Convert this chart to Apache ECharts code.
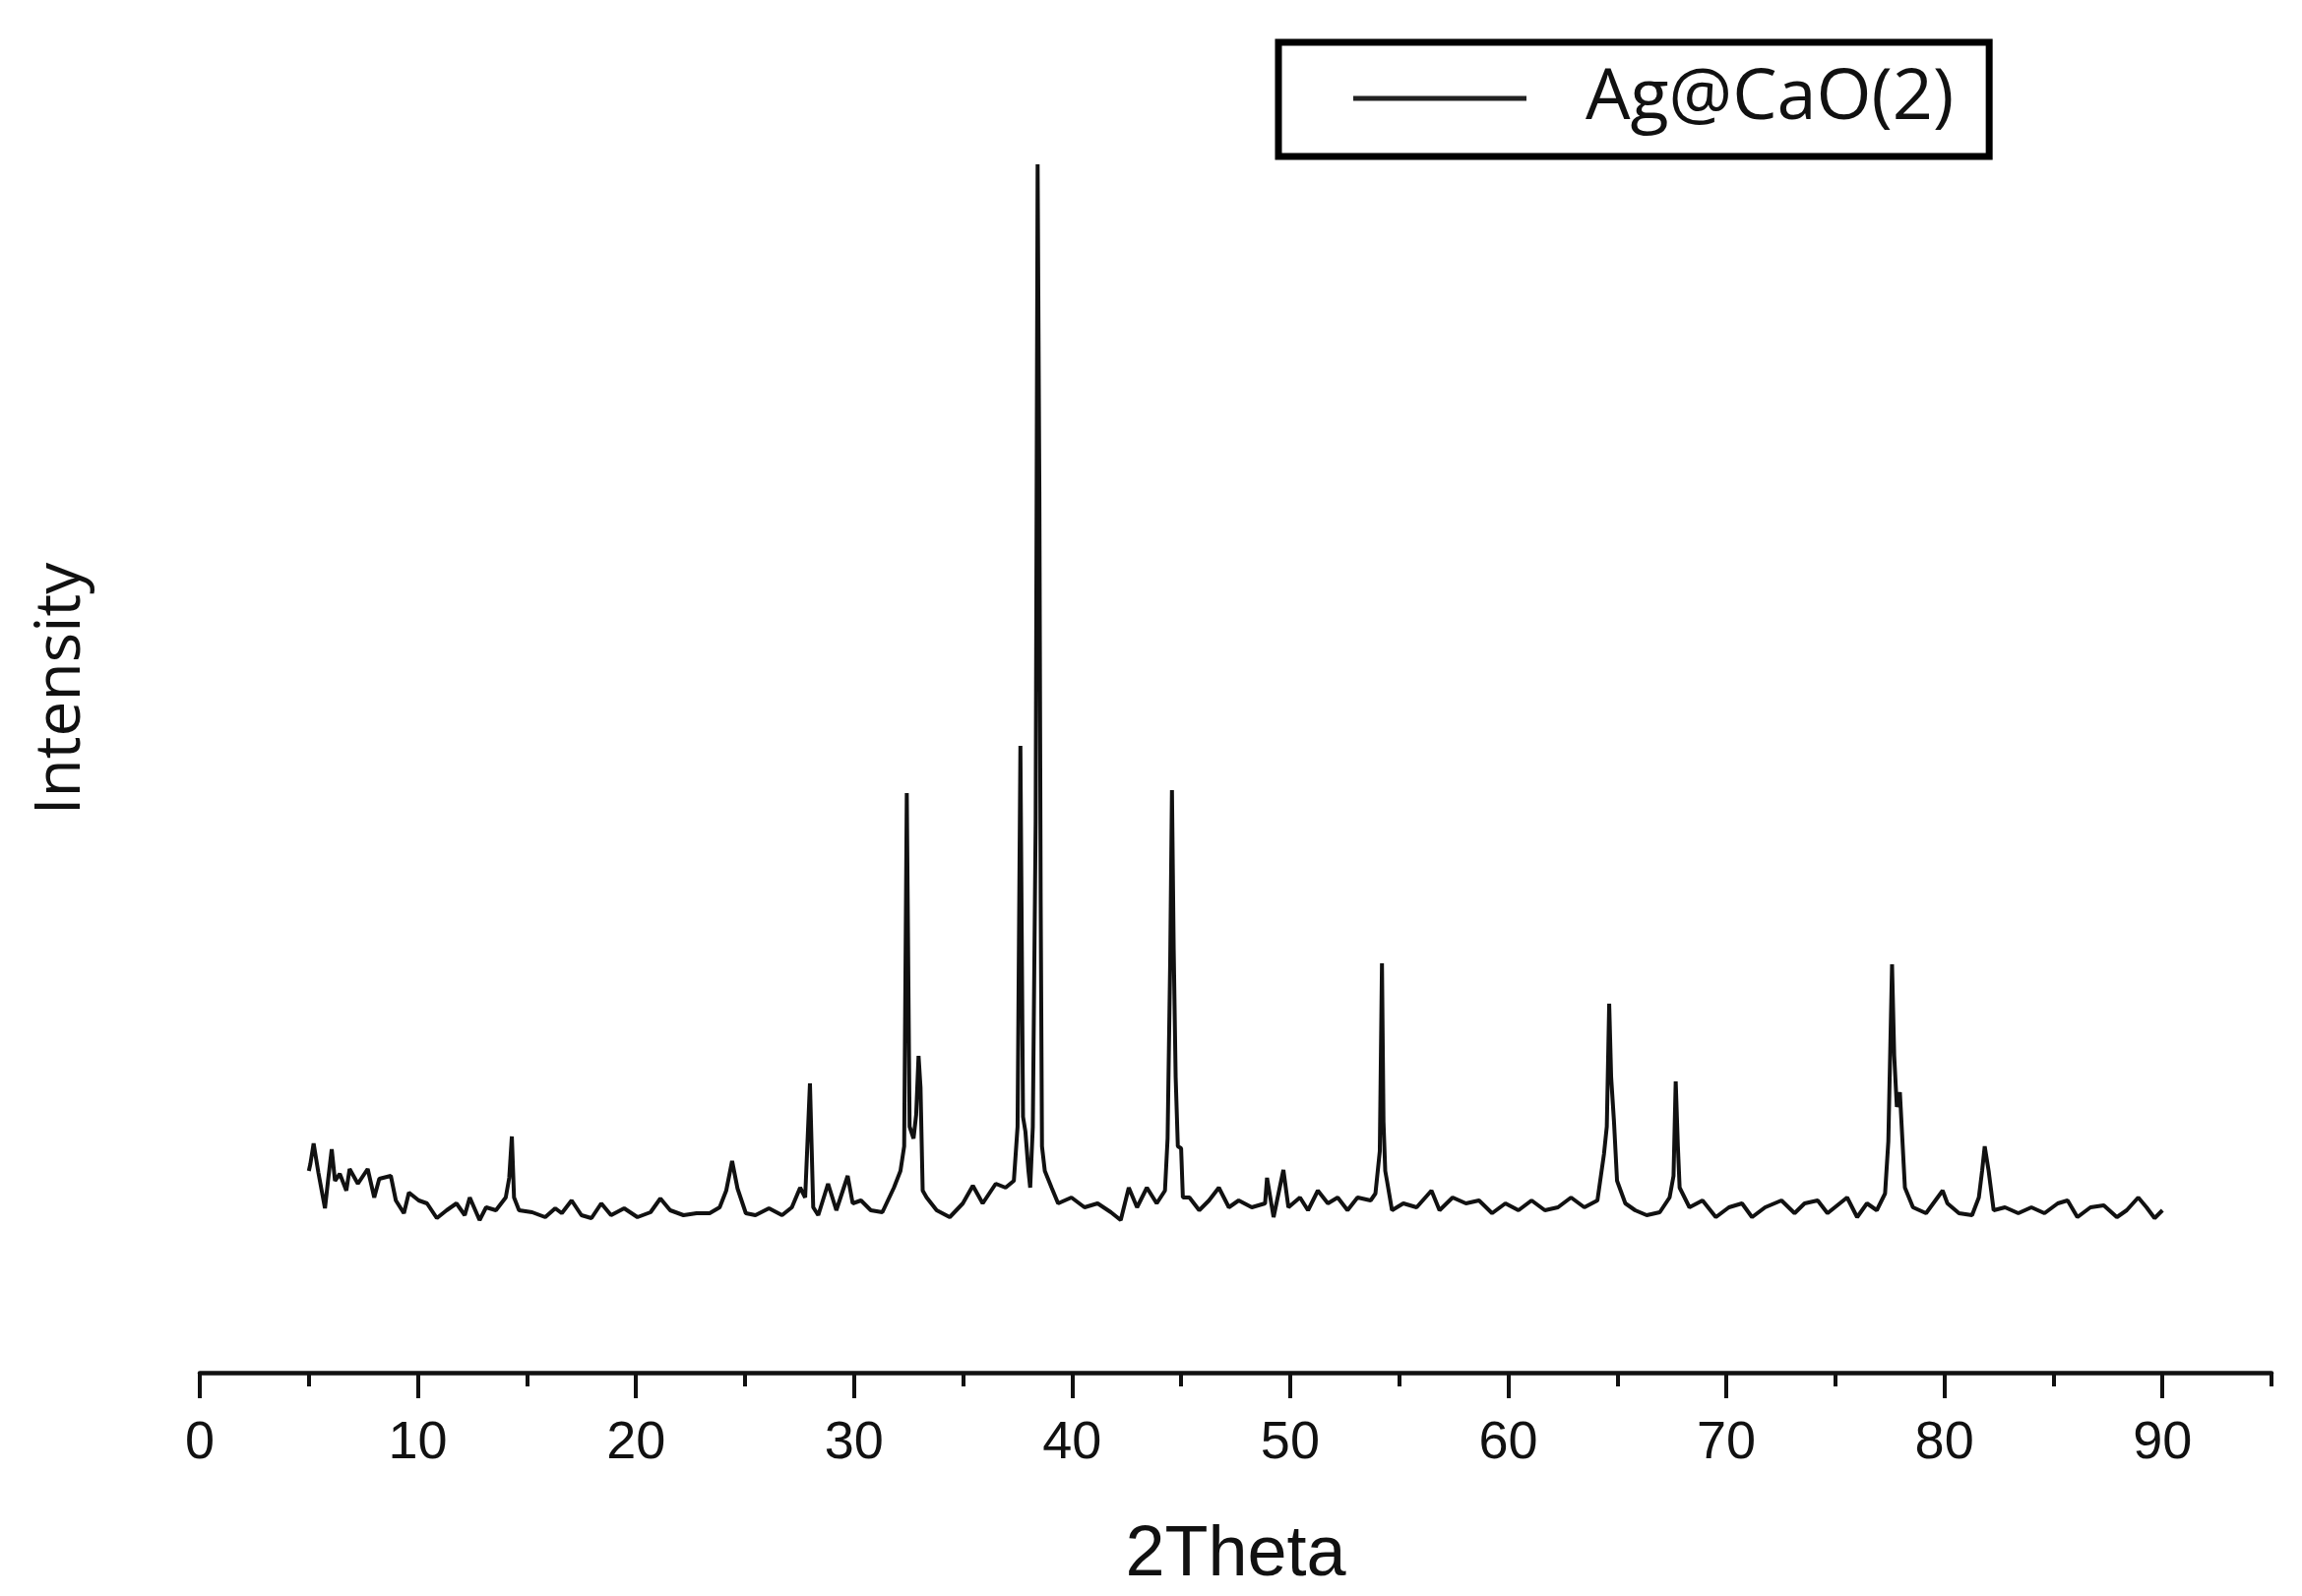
<!DOCTYPE html>
<html>
<head>
<meta charset="utf-8">
<script src="https://cdn.jsdelivr.net/npm/echarts@6/dist/echarts.min.js"></script>
<style>
html,body{margin:0;padding:0;background:#fff;}
#chart{width:2339px;height:1622px;}
</style>
</head>
<body>
<div id="chart"></div>
<script>
// 2Theta (degrees)
const twoTheta = [
5.0,5.07,5.22,5.44,5.74,5.89,6.05,6.2,6.42,6.72,6.87,7.25,7.7,8.0,8.23,8.76,8.99,9.36,9.59,10.04,
10.42,10.87,11.32,11.77,12.15,12.38,12.83,13.13,13.58,14.03,14.19,14.31,14.41,14.64,15.24,15.84,16.3,16.6,17.05,17.5,
17.96,18.41,18.86,19.46,20.07,20.67,21.12,21.57,22.18,22.78,23.38,23.84,24.14,24.41,24.66,25.04,25.48,26.1,26.7,27.15,
27.53,27.76,27.98,28.13,28.36,28.81,29.19,29.71,29.94,30.32,30.77,31.3,31.83,32.13,32.3,32.42,32.55,32.73,32.85,32.96,
33.05,33.15,33.33,33.79,34.39,34.99,35.45,35.9,36.5,36.95,37.33,37.5,37.63,37.75,37.86,38.0,38.08,38.2,38.33,38.42,
38.5,38.56,38.62,38.75,39.06,39.36,39.97,40.57,41.17,41.78,42.23,42.6,42.98,43.43,43.88,44.26,44.38,44.5,44.58,44.66,
44.75,44.85,45.0,45.08,45.38,45.83,46.28,46.73,47.19,47.64,48.24,48.85,48.94,49.24,49.69,49.92,50.45,50.82,51.27,51.73,
52.18,52.63,53.09,53.69,53.91,54.11,54.21,54.28,54.36,54.44,54.67,55.19,55.8,56.48,56.85,57.45,58.06,58.66,59.26,59.87,
60.47,61.07,61.68,62.28,62.88,63.49,64.09,64.39,64.52,64.63,64.72,64.85,64.99,65.37,65.82,66.35,66.95,67.4,67.58,67.68,
67.78,67.86,68.31,68.91,69.52,70.12,70.72,71.18,71.78,72.53,73.13,73.59,74.19,74.64,75.54,76.0,76.45,76.9,77.28,77.43,
77.6,77.7,77.82,77.96,78.19,78.56,79.16,79.92,80.14,80.67,81.27,81.58,81.73,81.85,82.03,82.26,82.78,83.39,83.99,84.59,
85.2,85.65,86.1,86.7,87.31,87.91,88.36,88.89,89.27,89.64,90.0
];
// Intensity (a.u.)
const intensity = [
205,212,233,203,167,197,227,195,202,185,207,192,207,178,197,200,175,162,183,175,
172,157,165,172,160,178,155,168,165,178,198,240,178,165,163,158,167,162,175,160,
157,172,160,167,158,163,177,165,160,162,162,168,185,215,187,162,160,167,160,168,
188,178,294,168,160,192,165,200,172,175,165,163,188,205,230,589,250,238,262,322,
290,185,178,165,158,172,190,172,192,188,195,250,637,260,245,205,188,250,560,1228,
895,480,230,205,188,172,178,168,172,163,155,188,168,188,172,185,238,420,592,430,
300,230,228,178,178,165,175,188,168,175,168,172,198,158,206,168,178,165,185,172,
178,165,178,175,182,225,416,255,205,195,165,172,168,185,165,178,172,175,162,172,
165,175,165,168,178,168,175,222,250,375,300,255,195,172,165,160,163,178,200,296,
230,188,168,175,158,168,172,158,168,175,162,172,175,162,178,158,172,165,182,235,
415,322,270,285,188,168,162,185,172,162,160,178,205,230,205,165,168,162,168,162,
172,175,158,168,170,158,165,178,168,157,165
];
const seriesName = 'Ag@CaO(2)';
const majorTicks = [0,10,20,30,40,50,60,70,80,90];
const minorTicks = [5,15,25,35,45,55,65,75,85,95];
const xTitle = '2Theta';
const yTitle = 'Intensity';

const data = twoTheta.map((x, i) => [x, intensity[i]]);
const chart = echarts.init(document.getElementById('chart'), null, {renderer: 'canvas'});
const axisColor = '#111';
chart.setOption({
  backgroundColor: '#fff',
  animation: false,
  grid: {left: 203, right: 31, top: 52, bottom: 227},
  legend: {
    left: 1299, top: 43,
    orient: 'horizontal',
    padding: [17, 36, 19, 76],
    borderColor: '#000', borderWidth: 7,
    icon: 'rect', itemWidth: 176, itemHeight: 5,
    itemStyle: {color: '#222'},
    textStyle: {fontFamily: 'Open Sans', fontSize: 72, color: '#111', lineHeight: 80, padding: [0, 0, 0, 55]},
    data: [seriesName]
  },
  xAxis: [
    {
      type: 'value', position: 'bottom', min: 0, max: 95,
      name: xTitle, nameLocation: 'middle', nameGap: 150,
      nameTextStyle: {fontFamily: 'Liberation Sans', fontSize: 72, color: '#111'},
      axisLine: {show: true, onZero: false, lineStyle: {color: axisColor, width: 4.5}},
      axisTick: {show: true, inside: false, length: 26, customValues: majorTicks, lineStyle: {color: axisColor, width: 4}},
      axisLabel: {show: true, customValues: majorTicks, margin: 45, fontFamily: 'Liberation Sans', fontSize: 54, color: '#111'},
      splitLine: {show: false}
    },
    {
      type: 'value', position: 'bottom', min: 0, max: 95,
      axisLine: {show: false, onZero: false},
      axisTick: {show: true, inside: false, length: 14, customValues: minorTicks, lineStyle: {color: axisColor, width: 4}},
      axisLabel: {show: false},
      splitLine: {show: false}
    }
  ],
  yAxis: {
    type: 'value', min: 0, max: 1343,
    axisLine: {show: false}, axisTick: {show: false}, axisLabel: {show: false}, splitLine: {show: false}
  },
  graphic: [{
    type: 'text', x: 63, y: 700, rotation: Math.PI / 2,
    style: {text: yTitle, fontFamily: 'Open Sans', fontSize: 64, fill: '#111', textAlign: 'center', textVerticalAlign: 'middle'}
  }],
  series: [{
    name: seriesName, type: 'line', xAxisIndex: 0, data: data,
    showSymbol: false, symbol: 'none',
    lineStyle: {color: '#111', width: 4},
    itemStyle: {color: '#111'}
  }]
});
</script>
</body>
</html>
